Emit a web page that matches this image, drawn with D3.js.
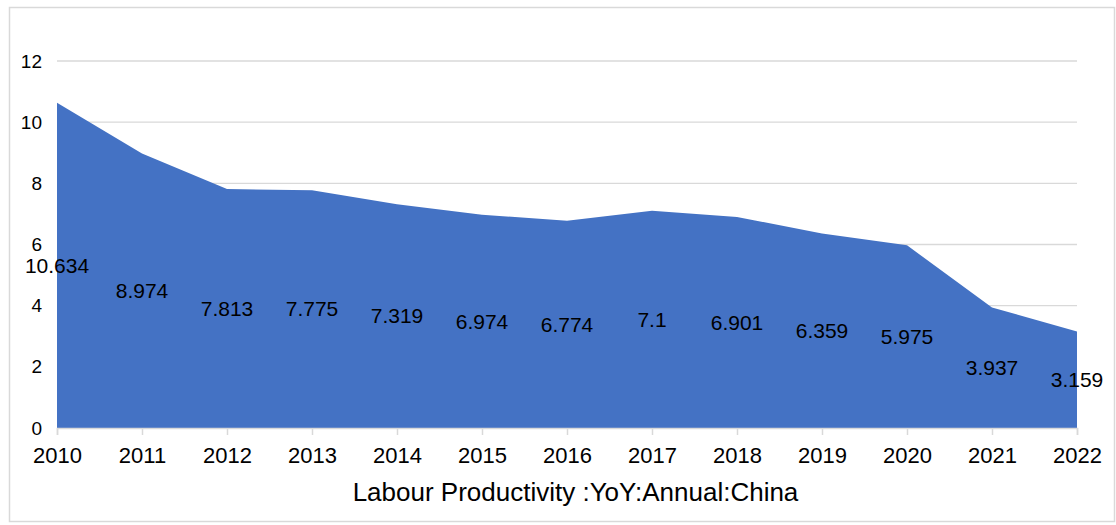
<!DOCTYPE html>
<html><head><meta charset="utf-8">
<script src="https://cdn.jsdelivr.net/npm/d3@7"></script>
<style>body{margin:0;background:#fff;}svg{display:block;font-family:"Liberation Sans",Arial,sans-serif;}</style>
</head><body>
<svg id="c" width="1116" height="525"></svg>
<script>
const years = [2010,2011,2012,2013,2014,2015,2016,2017,2018,2019,2020,2021,2022];
const values = [10.634,8.974,7.813,7.775,7.319,6.974,6.774,7.1,6.901,6.359,5.975,3.937,3.159];
const yTicks = [0,2,4,6,8,10,12];
const title = "Labour Productivity :YoY:Annual:China";

const FONT = "Liberation Sans, Arial, sans-serif";
const svg = d3.select("#c");
svg.append("rect").attr("x",9.5).attr("y",7.5).attr("width",1105).attr("height",514)
  .attr("fill","#fff").attr("stroke","#d9d9d9").attr("stroke-width",1.5);

const x = d3.scaleLinear().domain([2010,2022]).range([57,1077]);
const y = d3.scaleLinear().domain([0,12]).range([428,61]);

// gridlines
svg.append("g").selectAll("line").data(yTicks.filter(d=>d>0)).join("line")
  .attr("x1",57).attr("x2",1077).attr("y1",d=>y(d)).attr("y2",d=>y(d))
  .attr("stroke","#d9d9d9").attr("stroke-width",1.3);

// area
const data = years.map((yr,i)=>({yr, v:values[i]}));
svg.append("path").datum(data)
  .attr("d", d3.area().x(d=>x(d.yr)).y0(y(0)).y1(d=>y(d.v)))
  .attr("fill","#4472C4");

// x axis
const xa = svg.append("g").attr("transform",`translate(0,${y(0)})`)
  .call(d3.axisBottom(x).tickValues(years).tickFormat(d3.format("d")).tickSize(7).tickPadding(12.5));
xa.select(".domain").attr("stroke","#d9d9d9").attr("stroke-width",1.5);
xa.selectAll(".tick line").attr("stroke","#d9d9d9").attr("stroke-width",1.5);
xa.selectAll("text").attr("font-size",22).attr("fill","#000").attr("font-family",FONT);

// y axis
const ya = svg.append("g").attr("transform","translate(42,0)")
  .call(d3.axisLeft(y).tickValues(yTicks).tickSize(0).tickPadding(0));
ya.select(".domain").remove();
ya.selectAll("text").attr("font-size",19).attr("fill","#000").attr("font-family",FONT);

// labels at half height
svg.append("g").selectAll("text").data(data).join("text")
  .attr("x",d=>x(d.yr)).attr("y",d=>y(d.v/2)).attr("dy","0.35em")
  .attr("text-anchor","middle").attr("font-size",21).attr("fill","#000")
  .attr("font-family",FONT)
  .text(d=>String(d.v));

svg.append("text").attr("x",575.5).attr("y",501)
  .attr("text-anchor","middle").attr("font-size",26).attr("fill","#000")
  .attr("font-family",FONT).text(title);
</script>
</body></html>
